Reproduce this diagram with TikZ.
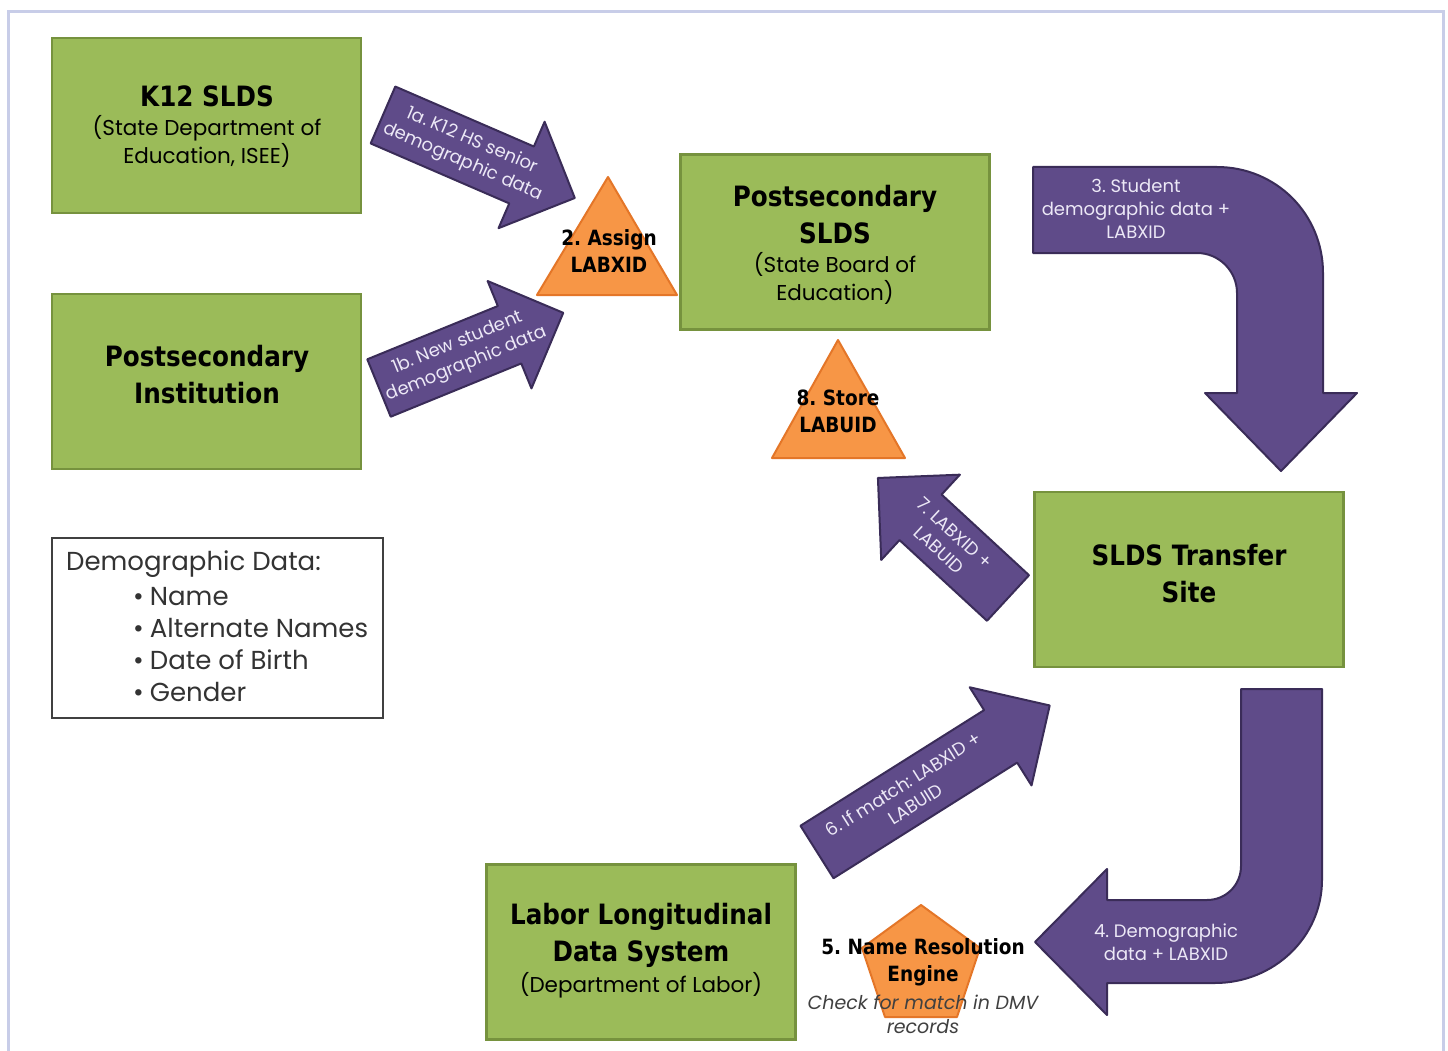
\documentclass[tikz,border=0pt]{standalone}
\usepackage{fontspec}
\setmainfont{Poppins}
\newfontfamily\headfont[FakeStretch=0.88]{DejaVu Sans}
\usetikzlibrary{shapes.geometric}
\frenchspacing

\definecolor{boxfill}{RGB}{155,187,89}
\definecolor{boxline}{RGB}{118,146,62}
\definecolor{stepfill}{RGB}{247,150,70}
\definecolor{stepline}{RGB}{228,118,40}
\definecolor{flowfill}{RGB}{95,75,137}
\definecolor{flowline}{RGB}{58,44,88}
\definecolor{flowink}{RGB}{236,232,246}
\definecolor{framecol}{RGB}{200,205,232}

\tikzset{
  greenbox/.style={draw=boxline, fill=boxfill, line width=2.5, minimum width=309, minimum height=175, inner sep=0},
  headtext/.style={font=\headfont\bfseries\fontsize{28}{37}\selectfont, align=center, inner sep=0},
  bodytext/.style={font=\fontsize{21.5}{28}\selectfont, align=center, inner sep=0},
  stepshape/.style={draw=stepline, fill=stepfill, line width=2, line join=round},
  steptext/.style={font=\headfont\bfseries\fontsize{21}{27}\selectfont, align=center, inner sep=0},
  flow/.style={draw=flowline, fill=flowfill, line width=2, line join=round},
  flowtext/.style={text=flowink, font=\fontsize{18}{23}\selectfont, align=center, inner sep=0},
  legendtext/.style={text=black!80, font=\fontsize{26}{32}\selectfont, align=left, inner sep=0}
}

\def\blockarrow[#1](#2)(#3:#4:#5:#6)#7{%
  \begin{scope}[shift={(#2)},rotate=#3]
    \draw[flow] (0,-31) -- ({#4-58},-31) -- ({#4-58},-58) -- (#4,0) -- ({#4-58},58) -- ({#4-58},31) -- (0,31) -- cycle;
    \node[flowtext,rotate=#6] (#1) at (#5,0) {#7};
  \end{scope}}

\begin{document}
\begin{tikzpicture}[x=1pt,y=-1pt]
			%%%%% START %%%%%
			\useasboundingbox (0,0) rectangle (1448,1051);
			\clip (0,0) rectangle (1448,1051);
			\fill[white] (0,0) rectangle (1448,1051);
			\draw[framecol, line width=3] (8,12) rectangle (1443,1070);
			
			% sources
			\node[greenbox] (k12) at (206.5,125.5) {};
			\node[headtext] (k12 title) at (207,96) {K12 SLDS};
			\node[bodytext] (k12 sub) at (207,141) {(State Department of\\Education, ISEE)};
			
			\node[greenbox] (inst) at (206.5,381.5) {};
			\node[headtext] (inst title) at (207,375) {Postsecondary\\Institution};
			
			\blockarrow[senior](383,115)(-23.4:209:92:-23.4){1a. K12 HS senior\\demographic data}
			\blockarrow[newstud](379,388)(22.2:199:90:22.2){1b. New student\\demographic data}
			
			\draw[stepshape] (608,177) -- (677,295) -- (537,295) -- cycle;
			\node[steptext] (assign) at (609,251) {2. Assign\\LABXID};
			
			% state board
			\node[greenbox] (pslds) at (835,242) {};
			\node[headtext] (pslds title) at (835,214.5) {Postsecondary\\SLDS};
			\node[bodytext] (pslds sub) at (835,278.5) {(State Board of\\Education)};
			
			\draw[flow] (1033,167) -- (1217,167) .. controls (1276,167) and (1323,214) .. (1323,273) -- (1323,393) -- (1357,393) -- (1281,471) -- (1205,393) -- (1237,393) -- (1237,293) .. controls (1237,271) and (1219,253) .. (1197,253) -- (1033,253) -- cycle;
			\node[flowtext] (studdata) at (1136,209) {3. Student\\demographic data +\\LABXID};
			
			\draw[stepshape] (838,340) -- (905,458) -- (772,458) -- cycle;
			\node[steptext] (store) at (838,411.5) {8. Store\\LABUID};
			
			% transfer site
			\node[greenbox] (transfer) at (1189,579.5) {};
			\node[headtext] (transfer title) at (1189,573.5) {SLDS Transfer\\Site};
			
			\blockarrow[backids](1008,598)(137.3:177:83:-42.7){7. LABXID +\\LABUID}
			
			\draw[flow] (1241,689) -- (1322,689) -- (1322,880) .. controls (1322,937) and (1274,983) .. (1215,983) -- (1107,983) -- (1107,1015) -- (1035,942) -- (1107,869) -- (1107,900) -- (1207,900) .. controls (1226,900) and (1241,885) .. (1241,866) -- cycle;
			\node[flowtext] (demodata) at (1166,942) {4. Demographic\\data + LABXID};
			
			% labor side
			\node[greenbox] (labor) at (641,952) {};
			\node[headtext] (labor title) at (641,935) {Labor Longitudinal\\Data System};
			\node[bodytext] (labor sub) at (641,985) {(Department of Labor)};
			
			\draw[stepshape] (921,905) -- (980,948) -- (957,1017) -- (885,1017) -- (862,948) -- cycle;
			\node[steptext] (engine) at (923,962.5) {5. Name Resolution\\Engine};
			\node[text=black!75, font=\itshape\fontsize{19}{24}\selectfont, align=center, inner sep=0] (dmv) at (923,1014) {Check for match in DMV\\records};
			
			\blockarrow[match](817,852)(32.2:275:109:32.2){6. If match: LABXID +\\LABUID}
			
			% legend
			\node[draw=black!75, line width=1.2, minimum width=331, minimum height=180, inner sep=0] (legend) at (217.5,628) {};
			\node[legendtext, anchor=west] (legend head) at (66,564) {Demographic Data:};
			\node[legendtext, anchor=west] (legend items) at (133,645) {\textbullet\hspace{6pt}Name\\\textbullet\hspace{6pt}Alternate Names\\\textbullet\hspace{6pt}Date of Birth\\\textbullet\hspace{6pt}Gender};
			
			%%%%% END %%%%%
\end{tikzpicture}
\end{document}
